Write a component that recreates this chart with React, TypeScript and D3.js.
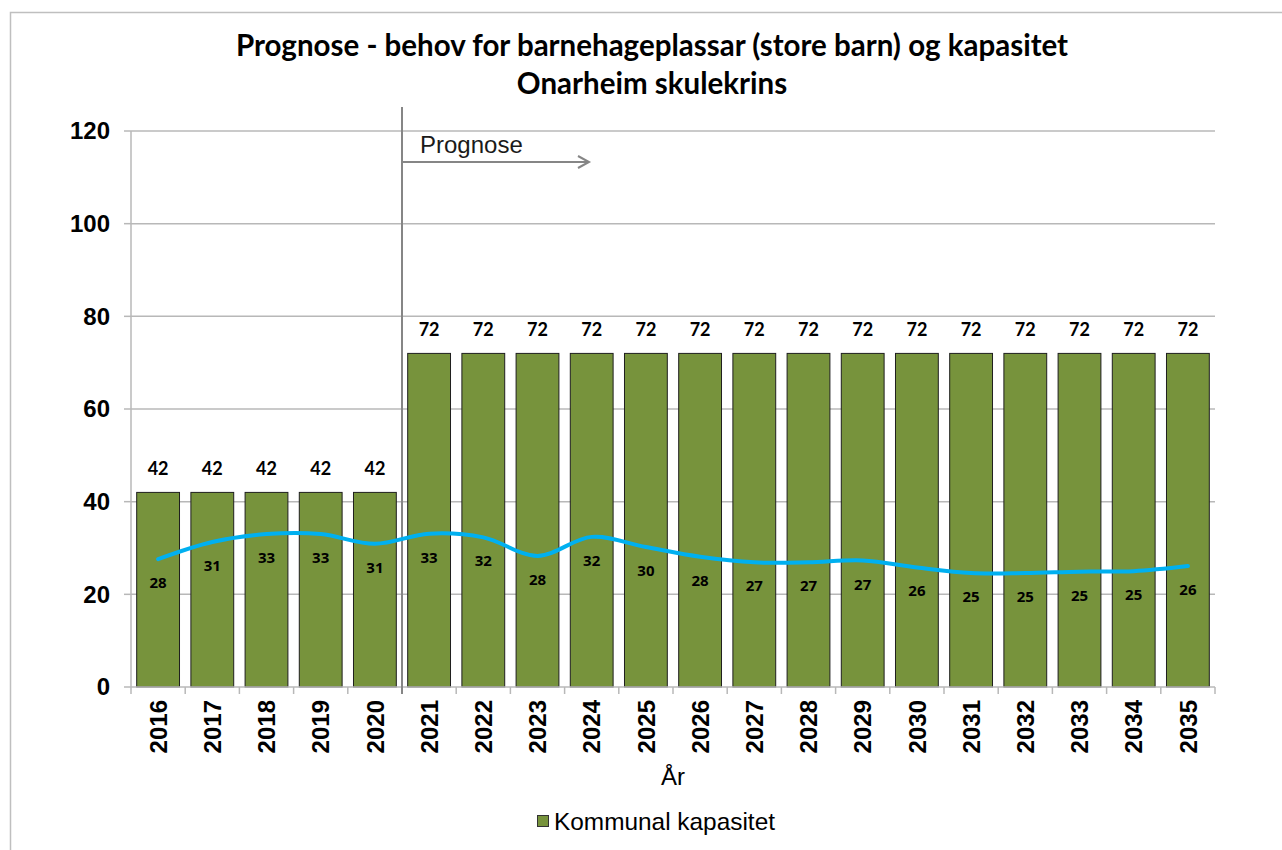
import React from 'react';
import * as d3 from 'd3';

const years = ['2016', '2017', '2018', '2019', '2020', '2021', '2022', '2023', '2024', '2025',
  '2026', '2027', '2028', '2029', '2030', '2031', '2032', '2033', '2034', '2035'];
const kapasitet = [42, 42, 42, 42, 42, 72, 72, 72, 72, 72, 72, 72, 72, 72, 72, 72, 72, 72, 72, 72];
const behov = [27.6, 31.3, 33.0, 33.0, 30.9, 33.1, 32.3, 28.3, 32.4, 30.2,
  28.1, 26.9, 26.9, 27.3, 25.8, 24.6, 24.6, 24.9, 25.0, 26.1];
const yTicks = [0, 20, 40, 60, 80, 100, 120];
const prognoseStart = '2021';

const W = 1282;
const H = 850;
const margin = { top: 131, right: 67, bottom: 163, left: 131 };

const GREEN = '#77933C';
const BLUE = '#00B0F0';
const GRID = '#B8B8B8';
const ARIAL = '"Liberation Sans", Arial, sans-serif';

export default function App() {
  const innerW = W - margin.left - margin.right;
  const innerH = H - margin.top - margin.bottom;

  const x = d3.scaleBand<string>().domain(years).range([0, innerW]).paddingInner(0.21).paddingOuter(0.105);
  const y = d3.scaleLinear().domain([0, 120]).range([innerH, 0]);
  const step = x.step();
  const bw = x.bandwidth();
  const cx = (d: string) => (x(d) as number) + bw / 2;

  const line = d3
    .line<number>()
    .x((_, i) => cx(years[i]))
    .y(d => y(d))
    .curve(d3.curveCatmullRom.alpha(0.5));

  const fmt = d3.format('.0f');
  const sepX = (x(prognoseStart) as number) - (step - bw) / 2;

  React.useEffect(() => {
    document.body.style.margin = '0';
  }, []);

  return (
    <svg width={W} height={H} style={{ display: 'block', background: '#fff' }}>
      <rect x={10.5} y={12.5} width={W + 20} height={H + 20} fill="none" stroke="#BFBFBF" strokeWidth={1.5} />

      <g fontFamily='Lato, "Open Sans", sans-serif' fontWeight="bold" fontSize={29.5} textAnchor="middle" fill="#000">
        <text x={652} y={56}>Prognose - behov for barnehageplassar (store barn) og kapasitet</text>
        <text x={652} y={94}>Onarheim skulekrins</text>
      </g>

      <g transform={`translate(${margin.left},${margin.top})`}>
        {/* grid */}
        {yTicks.filter(t => t > 0).map(t => (
          <line key={t} x1={0} x2={innerW} y1={y(t)} y2={y(t)} stroke={GRID} strokeWidth={1.5} />
        ))}

        {/* bars */}
        {years.map((yr, i) => (
          <rect key={yr} x={x(yr)} y={y(kapasitet[i])} width={bw} height={innerH - y(kapasitet[i])}
            fill={GREEN} stroke="#1f1f1f" strokeWidth={1} />
        ))}

        {/* axes */}
        <line x1={0} x2={0} y1={0} y2={innerH} stroke={GRID} strokeWidth={1.5} />
        <line x1={0} x2={innerW} y1={innerH} y2={innerH} stroke={GRID} strokeWidth={1.5} />
        {yTicks.map(t => (
          <g key={t}>
            <line x1={-7} x2={0} y1={y(t)} y2={y(t)} stroke={GRID} strokeWidth={1.5} />
            <text x={-21} y={y(t)} dy="0.35em" textAnchor="end" fontFamily={ARIAL} fontWeight="bold" fontSize={24}>{t}</text>
          </g>
        ))}
        {d3.range(years.length + 1).map(i => (
          <line key={i} x1={i * step} x2={i * step} y1={innerH} y2={innerH + 7} stroke={GRID} strokeWidth={1.5} />
        ))}
        {years.map(yr => (
          <text key={yr} transform={`translate(${cx(yr)},${innerH + 13}) rotate(-90)`} dy="0.36em" textAnchor="end"
            fontFamily={ARIAL} fontWeight="bold" fontSize={24}>{yr}</text>
        ))}

        {/* prognose marker */}
        <line x1={sepX} x2={sepX} y1={-24} y2={innerH + 7} stroke="#868686" strokeWidth={2} />
        <text x={sepX + 18} y={22} fontFamily={ARIAL} fontSize={24} fill="#1a1a1a">Prognose</text>
        <g stroke="#868686" strokeWidth={2} fill="none">
          <line x1={sepX} x2={sepX + 187} y1={31} y2={31} />
          <polyline points={`${sepX + 176},${25} ${sepX + 187},${31} ${sepX + 176},${37}`} />
        </g>

        {/* bar labels */}
        {years.map((yr, i) => (
          <text key={yr} x={cx(yr)} y={y(kapasitet[i]) - 17} textAnchor="middle"
            fontFamily='Lato, sans-serif' fontWeight="bold" fontSize={18}>{kapasitet[i]}</text>
        ))}

        {/* demand line */}
        <path d={line(behov) as string} fill="none" stroke={BLUE} strokeWidth={4} strokeLinejoin="round" strokeLinecap="round" />
        {years.map((yr, i) => (
          <text key={yr} x={cx(yr)} y={y(behov[i]) + 29} textAnchor="middle"
            fontFamily='"Open Sans", sans-serif' fontWeight="bold" fontSize={15}>{fmt(behov[i])}</text>
        ))}
      </g>

      <text x={673} y={777} dy="0.35em" textAnchor="middle" fontFamily={ARIAL} fontSize={24}>År</text>

      <g>
        <rect x={537.5} y={815.5} width={11} height={11} fill={GREEN} stroke="#333" strokeWidth={1} />
        <text x={554} y={821} dy="0.35em" fontFamily={ARIAL} fontSize={24.4}>Kommunal kapasitet</text>
      </g>
    </svg>
  );
}
